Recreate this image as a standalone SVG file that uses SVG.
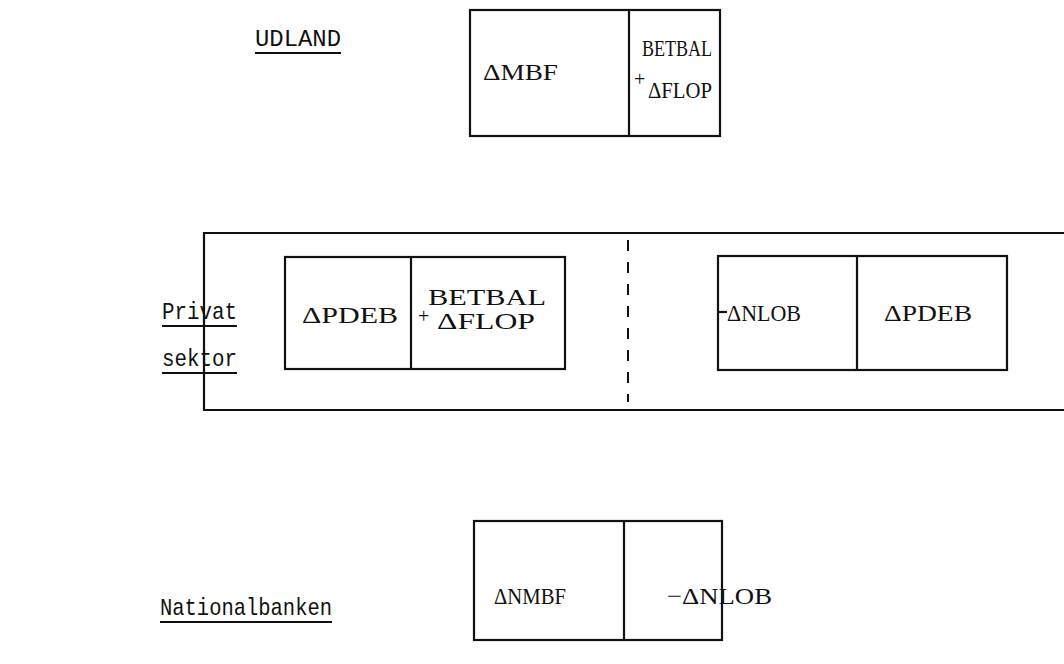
<svg xmlns="http://www.w3.org/2000/svg" width="1064" height="664" viewBox="0 0 1064 664">
<style>
.bx{fill:none;stroke:#111;stroke-width:2.2}
.ln{stroke:#111;stroke-width:2.2;fill:none}
.lbl{font-family:"Liberation Mono",monospace;font-size:24px;fill:#111}
.ul{stroke:#111;stroke-width:1.8}
.t{font-family:"Liberation Serif",serif;font-size:24px;fill:#111}
.p{font-family:"Liberation Serif",serif;font-size:20px;fill:#111}
</style>
<rect width="1064" height="664" fill="#fff"/>
<g id="udland">
<text class="lbl" x="255" y="46" textLength="86" lengthAdjust="spacingAndGlyphs">UDLAND</text>
<line class="ul" x1="255" y1="53" x2="341" y2="53"/>
<rect class="bx" x="470" y="10" width="250" height="126"/>
<line class="ln" x1="629" y1="10" x2="629" y2="136"/>
<text class="t" x="483" y="80" textLength="75" lengthAdjust="spacingAndGlyphs">ΔMBF</text>
<text class="t" x="642" y="56" textLength="70" lengthAdjust="spacingAndGlyphs">BETBAL</text>
<text class="p" x="634" y="86">+</text>
<text class="t" x="648" y="98" textLength="64" lengthAdjust="spacingAndGlyphs">ΔFLOP</text>
</g>
<g id="privat">
<text class="lbl" x="162" y="319" textLength="75" lengthAdjust="spacingAndGlyphs">Privat</text>
<line class="ul" x1="162" y1="326" x2="237" y2="326"/>
<text class="lbl" x="162" y="366" textLength="75" lengthAdjust="spacingAndGlyphs">sektor</text>
<line class="ul" x1="162" y1="373" x2="237" y2="373"/>
<path class="ln" d="M1064 233 H204 V410 H1064"/>
<line x1="628" y1="240" x2="628" y2="402" stroke="#111" stroke-width="2" stroke-dasharray="11,11"/>
</g>
<g id="privat-left">
<rect class="bx" x="285" y="257" width="280" height="112"/>
<line class="ln" x1="411" y1="257" x2="411" y2="369"/>
<text class="t" x="302" y="323" textLength="96" lengthAdjust="spacingAndGlyphs">ΔPDEB</text>
<text class="t" x="428" y="305" textLength="118" lengthAdjust="spacingAndGlyphs">BETBAL</text>
<text class="p" x="418" y="323">+</text>
<text class="t" x="437" y="329" textLength="98" lengthAdjust="spacingAndGlyphs">ΔFLOP</text>
</g>
<g id="privat-right">
<rect class="bx" x="718" y="256" width="289" height="114"/>
<line class="ln" x1="857" y1="256" x2="857" y2="370"/>
<line class="ln" x1="718" y1="312" x2="727" y2="312"/>
<text class="t" x="727" y="321" textLength="74" lengthAdjust="spacingAndGlyphs">ΔNLOB</text>
<text class="t" x="884" y="321" textLength="88" lengthAdjust="spacingAndGlyphs">ΔPDEB</text>
</g>
<g id="nationalbanken">
<text class="lbl" x="160" y="615" textLength="172" lengthAdjust="spacingAndGlyphs">Nationalbanken</text>
<line class="ul" x1="160" y1="622" x2="332" y2="622"/>
<rect class="bx" x="474" y="521" width="248" height="119"/>
<line class="ln" x1="624" y1="521" x2="624" y2="640"/>
<text class="t" x="494" y="604" textLength="72" lengthAdjust="spacingAndGlyphs">ΔNMBF</text>
<text class="t" x="667" y="604" textLength="105" lengthAdjust="spacingAndGlyphs">−ΔNLOB</text>
</g>
<g id="connectors"></g>
</svg>
